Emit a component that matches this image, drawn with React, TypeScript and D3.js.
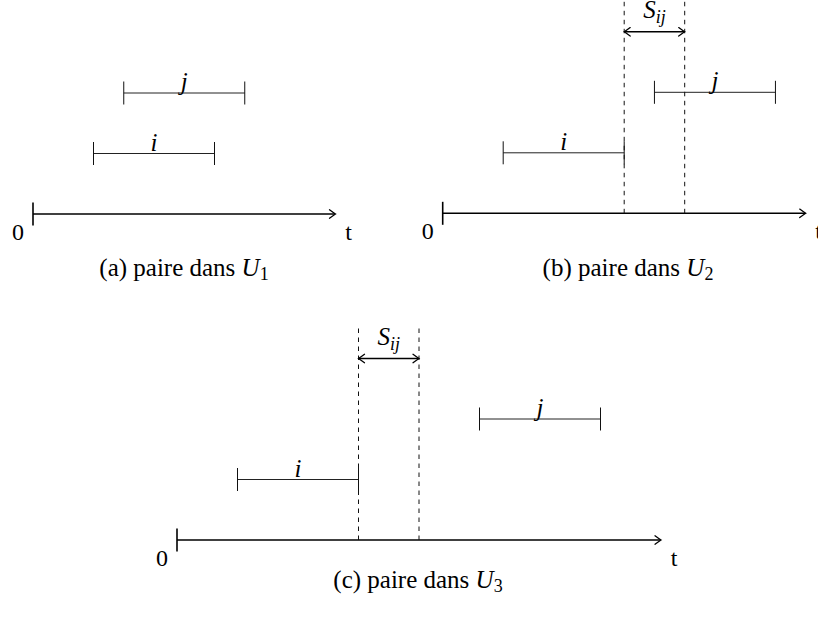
import React from "react";
import * as d3 from "d3";

// ---- data ----
const panelLabels = ["(a)", "(b)", "(c)"];
const setIndex = ["1", "2", "3"];
const axisLength = [5, 6, 8];
const intervalI: [number, number][] = [[1, 3], [1, 3], [1, 3]];
const intervalJ: [number, number][] = [[1.5, 3.5], [3.5, 5.5], [5, 7]];
const gapS: ([number, number] | null)[] = [null, [3, 4], [3, 4]];
const levelI = 1;
const levelJ = 2;
const levelS = 3;
const dashTop = 3.5;

// ---- layout ----
const W = 818;
const H = 619;
const UNIT = 60.5;
const origins = [
  { x: 33, y: 214 },
  { x: 442.7, y: 213.3 },
  { x: 177, y: 540 },
];
const captionPos = [
  { x: 184, y: 276 },
  { x: 628, y: 276 },
  { x: 418, y: 588 },
];
const tstyle = { fontFamily: '"Liberation Serif"' } as React.CSSProperties;

function arrowHead(x: number, y: number, dir: number) {
  const b = 6 * dir;
  const m = 2 * dir;
  return `M${x - b},${y - 4.2} Q${x - m},${y - 1.2} ${x},${y} Q${x - m},${y + 1.2} ${x - b},${y + 4.2}`;
}

function Panel({ k }: { k: number }) {
  const o = origins[k];
  const len = axisLength[k];
  const x = d3.scaleLinear().domain([0, len]).range([o.x, o.x + len * UNIT]);
  const y = d3.scaleLinear().domain([0, 4]).range([o.y, o.y - 4 * UNIT]);
  const intervals = [
    { name: "i", r: intervalI[k], lvl: levelI },
    { name: "j", r: intervalJ[k], lvl: levelJ },
  ];
  const g = gapS[k];
  const tipX = x(len);
  return (
    <g>
      <line x1={x(0)} x2={tipX - 0.5} y1={y(0)} y2={y(0)} stroke="#000" strokeWidth={1.6} />
      <path d={arrowHead(tipX, y(0), 1)} fill="none" stroke="#000" strokeWidth={1.3} strokeLinecap="round" />
      <line x1={x(0)} x2={x(0)} y1={y(0) - 11.5} y2={y(0) + 11.5} stroke="#000" strokeWidth={1.6} />
      <text x={x(0) - 15} y={y(0) + 26} style={tstyle} fontSize={24} textAnchor="middle">0</text>
      <text x={tipX + 13} y={y(0) + 26} style={tstyle} fontSize={24} textAnchor="middle">t</text>
      {intervals.map((iv) => (
        <g key={iv.name}>
          <line x1={x(iv.r[0])} x2={x(iv.r[1])} y1={y(iv.lvl)} y2={y(iv.lvl)} stroke="#222" strokeWidth={1} />
          <line x1={x(iv.r[0])} x2={x(iv.r[0])} y1={y(iv.lvl) - 11.5} y2={y(iv.lvl) + 11.5} stroke="#111" strokeWidth={1} />
          <line x1={x(iv.r[1])} x2={x(iv.r[1])} y1={y(iv.lvl) - 11.5} y2={y(iv.lvl) + 11.5} stroke="#111" strokeWidth={1} />
          <text
            x={(x(iv.r[0]) + x(iv.r[1])) / 2}
            y={y(iv.lvl) - 3}
            style={tstyle}
            fontStyle="italic"
            fontSize={25}
            textAnchor="middle"
          >
            {iv.name}
          </text>
        </g>
      ))}
      {g && (
        <g>
          {g.map((v, idx) => (
            <line
              key={idx}
              x1={x(v)}
              x2={x(v)}
              y1={y(0)}
              y2={y(dashTop)}
              stroke="#111"
              strokeWidth={1}
              strokeDasharray="4.5,4.5"
            />
          ))}
          <line x1={x(g[0]) + 0.5} x2={x(g[1]) - 0.5} y1={y(levelS)} y2={y(levelS)} stroke="#000" strokeWidth={1.6} />
          <path d={arrowHead(x(g[1]), y(levelS), 1)} fill="none" stroke="#000" strokeWidth={1.3} strokeLinecap="round" />
          <path d={arrowHead(x(g[0]), y(levelS), -1)} fill="none" stroke="#000" strokeWidth={1.3} strokeLinecap="round" />
          <text
            x={(x(g[0]) + x(g[1])) / 2}
            y={y(levelS) - 14}
            style={tstyle}
            fontStyle="italic"
            fontSize={25}
            textAnchor="middle"
          >
            S<tspan fontSize={18} dy={5}>ij</tspan>
          </text>
        </g>
      )}
      <text x={captionPos[k].x} y={captionPos[k].y} style={tstyle} fontSize={25} textAnchor="middle">
        {panelLabels[k]} paire dans{" "}
        <tspan fontStyle="italic">U</tspan>
        <tspan fontSize={18} dy={4}>{setIndex[k]}</tspan>
      </text>
    </g>
  );
}

export default function App() {
  return (
    <svg
      width={W}
      height={H}
      viewBox={`0 0 ${W} ${H}`}
      style={{ position: "absolute", left: 0, top: 0, background: "#fff" }}
    >
      <rect width={W} height={H} fill="#fff" />
      {panelLabels.map((_, k) => (
        <Panel key={k} k={k} />
      ))}
    </svg>
  );
}
